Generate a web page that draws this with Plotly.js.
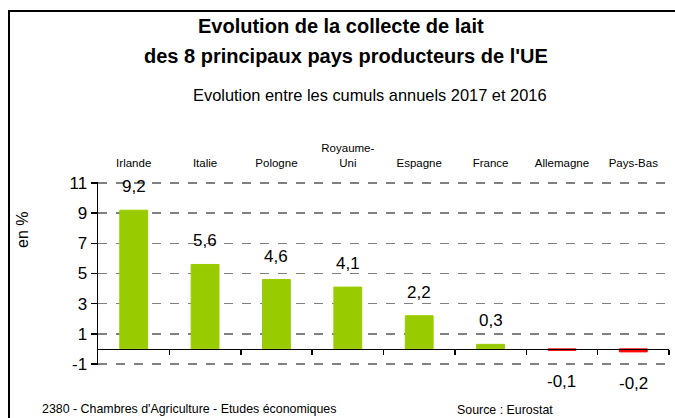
<!DOCTYPE html>
<html><head><meta charset="utf-8">
<script src="https://cdn.plot.ly/plotly-3.0.1.min.js"></script>
<style>
html,body{margin:0;padding:0;background:#fff;}
#wrap{position:relative;width:675px;height:418px;overflow:hidden;}
#chart{width:675px;height:418px;}
#frame{position:absolute;left:8px;top:10px;width:700px;height:500px;border-top:2px solid #000;border-left:2px solid #000;pointer-events:none;}
</style></head>
<body><div id="wrap"><div id="chart"></div><div id="frame"></div></div>
<script>
const countries = ['Irlande','Italie','Pologne','Royaume-<br>Uni','Espagne','France','Allemagne','Pays-Bas'];
const values = [9.2, 5.6, 4.6, 4.1, 2.2, 0.3, -0.1, -0.2];
const labels = ['9,2','5,6','4,6','4,1','2,2','0,3','-0,1','-0,2'];
const yTicks = [-1, 1, 3, 5, 7, 9, 11];
const yTickText = ['-1', '1', '3', '5', '7', '9', '11'];
const boundaryTicks = [0.5, 1.5, 2.5, 3.5, 4.5, 5.5, 6.5, 7.5];

const SANS = '"Liberation Sans", Arial, sans-serif';

const colors = values.map(v => v >= 0 ? '#99CC00' : '#FF0000');

const traces = [{
  type: 'bar', x: countries, y: values,
  marker: {color: colors, line: {width: 1, color: colors}},
  hoverinfo: 'none', showlegend: false
}, {
  type: 'scatter', x: [null], y: [null], xaxis: 'x2', yaxis: 'y',
  showlegend: false, hoverinfo: 'none'
}];

// y range slightly padded so the gridlines at -1 and 11 are drawn
const YMIN = -1.07, YMAX = 11.07;
const PXU = 181 / 12;           // pixels per unit
const L = 98, R = 669;
const T = Math.round(183 - (YMAX - 11) * PXU);
const B = Math.round(364 + (-1 - YMIN) * PXU);
const px = x => (x - L) / (R - L);
const py = y => (B - y) / (B - T);

const annotations = values.map((v, i) => ({
  x: countries[i], y: v, xref: 'x', yref: 'y',
  text: labels[i], showarrow: false,
  yanchor: v >= 0 ? 'bottom' : 'top',
  yshift: v >= 0 ? 12 : -20,
  font: {family: SANS, size: 17, color: '#000'}
}));

annotations.push(
  {xref:'paper', yref:'paper', x: px(341), y: py(26), text: '<b>Evolution de la collecte de lait</b>', showarrow:false, xanchor:'center', yanchor:'middle', font:{family:SANS, size:20, color:'#000'}},
  {xref:'paper', yref:'paper', x: px(346), y: py(56), text: "<b>des 8 principaux pays producteurs de l'UE</b>", showarrow:false, xanchor:'center', yanchor:'middle', font:{family:SANS, size:20, color:'#000'}},
  {xref:'paper', yref:'paper', x: px(370), y: py(95), text: 'Evolution entre les cumuls annuels 2017 et 2016', showarrow:false, xanchor:'center', yanchor:'middle', font:{family:SANS, size:16.4, color:'#000'}},
  {xref:'paper', yref:'paper', x: px(22), y: py(230), text: 'en %', textangle: -90, showarrow:false, xanchor:'center', yanchor:'middle', font:{family:SANS, size:16, color:'#000'}},
  {xref:'paper', yref:'paper', x: px(40), y: py(409), text: "2380 - Chambres d'Agriculture - Etudes économiques", showarrow:false, xanchor:'left', yanchor:'middle', font:{family:SANS, size:12.4, color:'#000'}},
  {xref:'paper', yref:'paper', x: px(455), y: py(410), text: 'Source : Eurostat', showarrow:false, xanchor:'left', yanchor:'middle', font:{family:SANS, size:12.4, color:'#000'}}
);

const layout = {
  width: 675, height: 418,
  margin: {l: L, r: 675 - R, t: T, b: 418 - B, pad: 0},
  paper_bgcolor: '#fff', plot_bgcolor: '#fff',
  bargap: 0.61,
  showlegend: false,
  xaxis: {
    type: 'category', side: 'top', showline: false, showgrid: false, zeroline: false,
    ticks: '', ticklabelstandoff: 12,
    tickfont: {family: SANS, size: 11.5, color: '#000'},
    range: [-0.5, 7.5], fixedrange: true
  },
  xaxis2: {
    overlaying: 'x', anchor: 'free', position: (0 - YMIN) / (YMAX - YMIN), side: 'bottom',
    range: [-0.5, 7.5], tickmode: 'array', tickvals: boundaryTicks,
    ticks: 'outside', ticklen: 5, tickwidth: 1.5, tickcolor: '#000',
    showticklabels: false, showline: true, linecolor: '#000', linewidth: 1.5,
    showgrid: false, zeroline: false, fixedrange: true
  },
  yaxis: {
    range: [YMIN, YMAX], tickmode: 'array', tickvals: yTicks, ticktext: yTickText,
    ticks: 'outside', ticklen: 6, tickwidth: 1.5, tickcolor: '#000',
    showline: true, linecolor: '#000', linewidth: 1.5,
    showgrid: true, gridcolor: '#808080', gridwidth: 1.5, griddash: 'dash',
    zeroline: false,
    tickfont: {family: SANS, size: 17, color: '#000'},
    fixedrange: true
  },
  annotations: annotations
};

Plotly.newPlot('chart', traces, layout, {displayModeBar: false, staticPlot: true});
</script></body></html>
